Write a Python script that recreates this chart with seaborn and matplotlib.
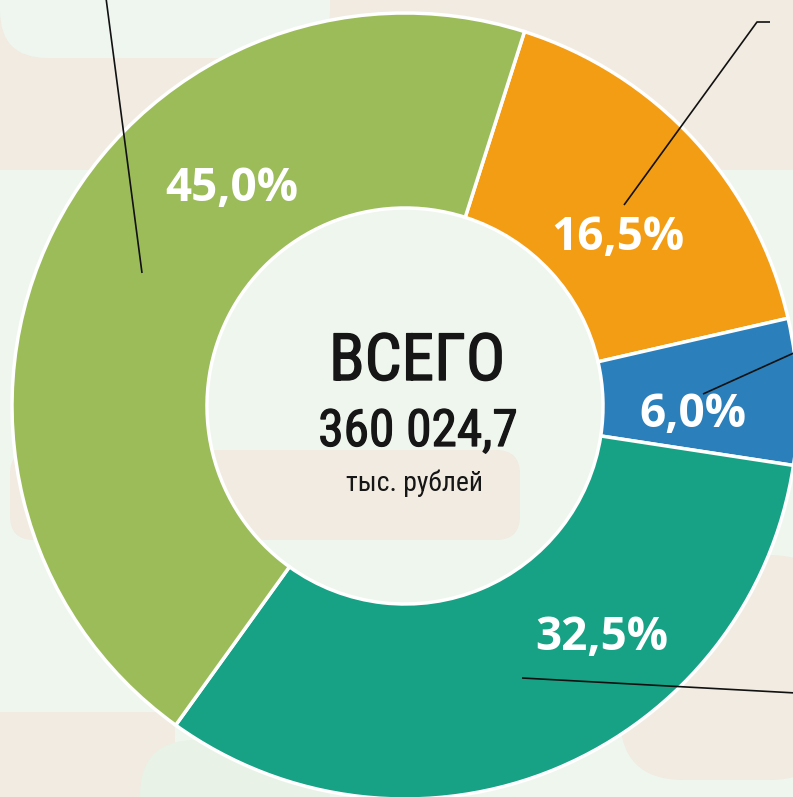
import matplotlib
matplotlib.use("Agg")
import matplotlib.pyplot as plt
import matplotlib.patheffects as pe
import seaborn as sns
from matplotlib.patches import FancyBboxPatch

# data
shares = [16.5, 6.0, 32.5, 45.0]
colors = ['#F39D14', '#2B7FBA', '#17A285', '#9CBC5A']
total_label = 'ВСЕГО'
total_value = '360 024,7'
total_unit = 'тыс. рублей'

sns.set_theme(style='white')
plt.rcParams['font.family'] = ['Open Sans', 'DejaVu Sans']
narrow = ['Roboto Condensed', 'PT Sans Narrow', 'DejaVu Sans']

W, H = 793, 797
fig = plt.figure(figsize=(W / 100, H / 100), dpi=100)
fig.patch.set_facecolor('#EFF6EE')

beige = '#F1EBE1'
light = '#EEF6EF'


def px_box(x0, y0, x1, y1, color, pad=0.0):
    # rectangle given in image pixels (origin top-left)
    return FancyBboxPatch((x0 / W, 1 - y1 / H), (x1 - x0) / W, (y1 - y0) / H,
                          boxstyle=f"round,pad=0,rounding_size={pad}",
                          transform=fig.transFigure, facecolor=color,
                          edgecolor='none', zorder=-5)


# soft background blocks
fig.patches.append(px_box(0, 0, W, 170, beige))
fig.patches.append(px_box(0, -60, 330, 58, light, pad=0.06))
fig.patches.append(px_box(10, 450, 520, 540, beige, pad=0.03))
fig.patches.append(px_box(620, 555, W + 40, 780, beige, pad=0.08))
fig.patches.append(px_box(0, 712, 175, H, beige))
fig.patches.append(px_box(140, 740, 330, H + 60, '#E8F2E7', pad=0.07))

ax = fig.add_axes([0, 0, 1, 1])
ax.set_facecolor('none')

R = 393.0
cx, cy = 405.0, 406.0

wedges, _, autotexts = ax.pie(
    shares, colors=colors, startangle=72.3, counterclock=False, radius=1.0,
    autopct=lambda p: f"{p:.1f}%".replace('.', ','), pctdistance=0.75,
    wedgeprops=dict(width=(R - 198) / R, edgecolor='white', linewidth=2.5),
    textprops=dict(color='white', fontsize=33, fontweight='bold',
                   family=['Open Sans', 'DejaVu Sans']))

ax.set_aspect('auto')
ax.set_xlim(-cx / R, (W - cx) / R)
ax.set_ylim(-(H - cy) / R, cy / R)
ax.axis('off')


def to_data(px, py):
    return (px - cx) / R, (cy - py) / R


# label placement (image pixels)
label_pos = [(618, 237), (693, 414), (602, 637), (232, 188)]
for t, (px, py) in zip(autotexts, label_pos):
    t.set_position(to_data(px, py))
    t.set_ha('center')
    t.set_va('center')

# leader lines
leaders = [
    [(624, 205), (757, 22), (770, 22)],
    [(703, 394), (796, 352)],
    [(522, 678), (796, 693)],
    [(142, 273), (106, -2)],
]
for pts in leaders:
    xs, ys = zip(*[to_data(*p) for p in pts])
    ax.plot(xs, ys, color='#111111', lw=1.2, solid_capstyle='butt', zorder=5)


def ctext(px, py, s, size, stroke):
    x, y = to_data(px, py)
    t = ax.text(x, y, s, ha='center', va='center', color='#161616',
                fontsize=size, family=narrow)
    if stroke:
        t.set_path_effects([pe.Stroke(linewidth=stroke, foreground='#161616'),
                            pe.Normal()])


ctext(417, 362, total_label, 47, 1.0)
ctext(418, 432, total_value, 37, 0.9)
ctext(414, 483, total_unit, 20, 0)

fig.savefig('out.png', dpi=100)
